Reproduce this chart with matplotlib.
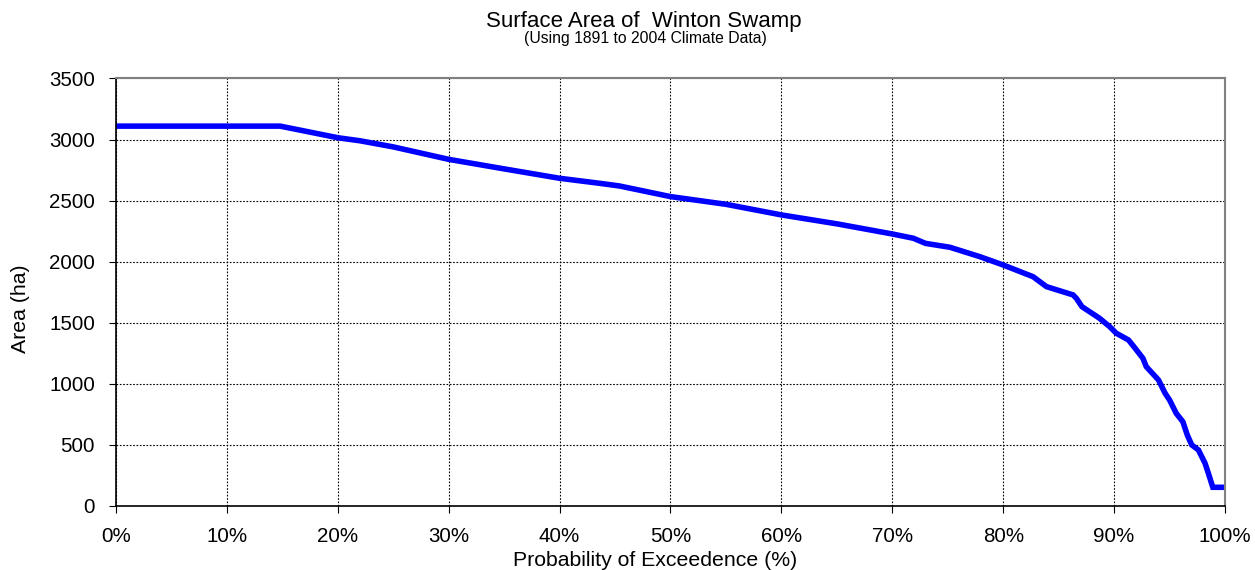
import matplotlib.pyplot as plt
from matplotlib.ticker import MultipleLocator, FuncFormatter

plt.rcParams['font.family'] = ['Liberation Sans', 'DejaVu Sans']

# Exceedence curve
prob = [0, 14.8, 17, 20, 22, 25, 30, 35, 40, 43.6, 45.4, 50, 55, 60, 65, 70,
        71.9, 73, 75.2, 77.9, 80, 82.7, 83.9, 86.3, 86.6, 87.1, 88.7, 89.6,
        90.2, 91.3, 91.9, 92.6, 92.9, 94.0, 94.6, 95.0, 95.6, 96.2, 96.6,
        97.0, 97.6, 98.2, 98.5, 98.9, 100]
area = [3110, 3110, 3070, 3015, 2990, 2940, 2838, 2760, 2683, 2642, 2620,
        2533, 2470, 2383, 2310, 2227, 2192, 2150, 2118, 2041, 1973, 1877,
        1796, 1728, 1700, 1632, 1536, 1468, 1414, 1359, 1291, 1209, 1141,
        1032, 923, 868, 759, 690, 581, 500, 459, 350, 268, 153, 153]

fig = plt.figure(figsize=(12.55, 5.7), dpi=100)
ax = fig.add_axes([0.0924, 0.1123, 0.8837, 0.75])

ax.plot(prob, area, color='#0000ff', linewidth=4, solid_joinstyle='miter')

ax.set_xlim(0, 100)
ax.set_ylim(0, 3500)
ax.xaxis.set_major_locator(MultipleLocator(10))
ax.yaxis.set_major_locator(MultipleLocator(500))
ax.xaxis.set_major_formatter(FuncFormatter(lambda v, p: f'{v:.0f}%'))

ax.grid(True, color='black', linestyle=(0, (1.5, 1.5)), linewidth=0.8)
ax.tick_params(direction='out', length=5, labelsize=14.8, color='black', pad=10)

for side in ['top', 'right']:
    ax.spines[side].set_color('#808080')
    ax.spines[side].set_linewidth(1.5)
for side in ['left', 'bottom']:
    ax.spines[side].set_color('black')
    ax.spines[side].set_linewidth(1.2)

ax.set_xlabel('Probability of Exceedence (%)', fontsize=15.3, labelpad=4, x=0.4865)
ax.set_ylabel('Area (ha)', fontsize=15.3, labelpad=14, y=0.461)

fig.text(0.513, 0.9532, 'Surface Area of  Winton Swamp', ha='center', va='baseline', fontsize=16)
fig.text(0.514, 0.924, '(Using 1891 to 2004 Climate Data)', ha='center', va='baseline', fontsize=11.3)

plt.savefig('out.png', dpi=100)
